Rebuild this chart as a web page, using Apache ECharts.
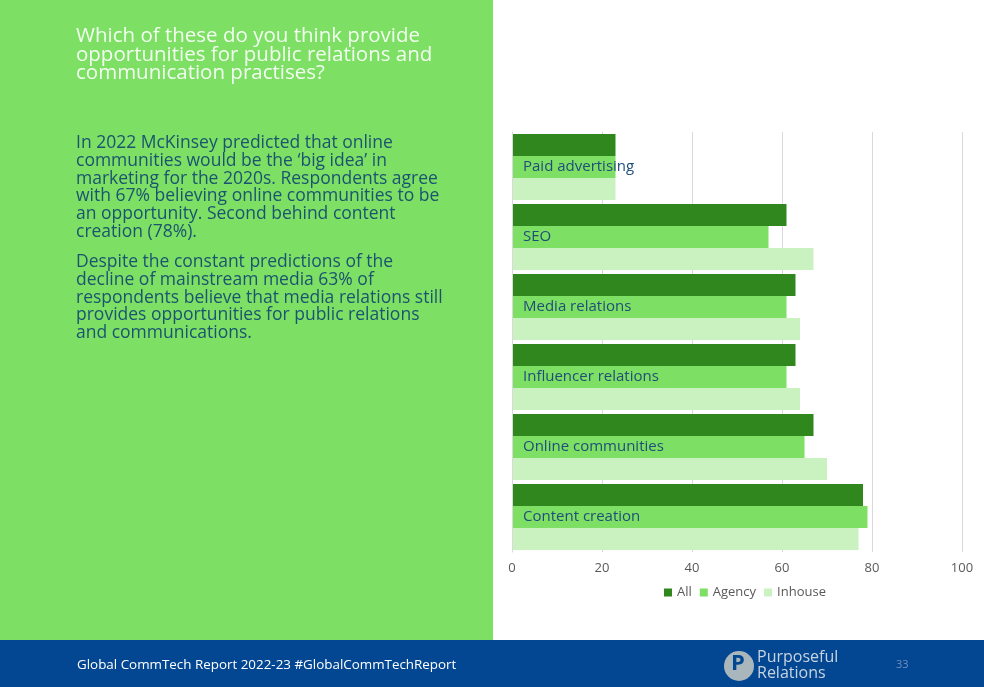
<!DOCTYPE html>
<html><head><meta charset="utf-8">
<script src="https://cdn.jsdelivr.net/npm/echarts@6/dist/echarts.min.js"></script>
<style>html,body{margin:0;padding:0;background:#fff}#c{width:984px;height:687px}</style>
</head><body><div id="c"></div>
<script>
const categories = ['Content creation','Online communities','Influencer relations','Media relations','SEO','Paid advertising'];
const allValues = [78, 67, 63, 63, 61, 23];
const agencyValues = [79, 65, 61, 61, 57, 23];
const inhouseValues = [77, 70, 64, 64, 67, 23];
const seriesNames = ['All','Agency','Inhouse'];
const xTicks = [0, 20, 40, 60, 80, 100];

const titleLines = ['Which of these do you think provide','opportunities for public relations and','communication practises?'];
const para1 = ['In 2022 McKinsey predicted that online','communities would be the \u2018big idea\u2019 in','marketing for the 2020s. Respondents agree','with 67% believing online communities to be','an opportunity. Second behind content','creation (78%).'];
const para2 = ['Despite the constant predictions of the','decline of mainstream media 63% of','respondents believe that media relations still','provides opportunities for public relations','and communications.'];
const footerText = 'Global CommTech Report 2022-23 #GlobalCommTechReport';

const FONT = '"Open Sans", sans-serif';
const chart = echarts.init(document.getElementById('c'));
chart.setOption({
  animation: false,
  graphic: [
    {type:'rect', z:-10, shape:{x:0,y:0,width:493,height:640}, style:{fill:'#7ddf64'}},
    {type:'rect', z:-10, shape:{x:0,y:640,width:984,height:47}, style:{fill:'#034792'}},
    {type:'text', left:76, top:26, style:{text:titleLines.join('\n'), fill:'#f2fff0', font:'20.5px '+FONT, lineHeight:18.5}},
    {type:'text', left:76, top:134, style:{text:para1.join('\n'), fill:'#1a5470', font:'17.5px '+FONT, lineHeight:17.8}},
    {type:'text', left:76, top:253, style:{text:para2.join('\n'), fill:'#1a5470', font:'17.5px '+FONT, lineHeight:17.8}},
    {type:'text', left:77, top:659, style:{text:footerText, fill:'#ffffff', font:'13.4px '+FONT}},
    {type:'circle', shape:{cx:739, cy:666, r:15}, style:{fill:'#a9b7bd'}},
    {type:'text', left:731, top:653, style:{text:'P', fill:'#034792', font:'bold 22px '+FONT}},
    {type:'text', left:757, top:649, style:{text:'Purposeful\nRelations', fill:'#c8d3e0', font:'16px '+FONT, lineHeight:16}},
    {type:'text', left:896, top:659, style:{text:'33', fill:'#6f8fbf', font:'11px '+FONT}}
  ],
  grid: {left:512, right:22, top:132, bottom:135, containLabel:false},
  legend: {
    data: seriesNames, bottom: 83, left: 659, itemWidth: 8, itemHeight: 8, itemGap: 8,
    icon: 'rect', textStyle: {color:'#595959', fontSize:13, fontFamily:FONT}
  },
  xAxis: {
    type:'value', min:0, max:100, interval:20,
    axisLine:{show:false}, axisTick:{show:false},
    splitLine:{lineStyle:{color:'#d9d9d9'}},
    axisLabel:{color:'#595959', fontSize:13, fontFamily:FONT, margin:10,
      formatter: v => xTicks.includes(v) ? String(v) : ''}
  },
  yAxis: {
    type:'category', data:categories,
    axisLine:{show:true, lineStyle:{color:'#d9d9d9'}}, axisTick:{show:false},
    axisLabel:{inside:true, margin:11, color:'#1f4e79', fontSize:15, fontFamily:FONT}, z:10
  },
  series: [
    {name:'All', type:'bar', data:allValues, barWidth:22, barGap:'0%', barCategoryGap:'5.7%', itemStyle:{color:'#2f871e'}},
    {name:'Agency', type:'bar', data:agencyValues, barWidth:22, barGap:'0%', itemStyle:{color:'#7ddf64'}},
    {name:'Inhouse', type:'bar', data:inhouseValues, barWidth:22, barGap:'0%', itemStyle:{color:'#c9f2c0'}}
  ]
});
</script></body></html>
